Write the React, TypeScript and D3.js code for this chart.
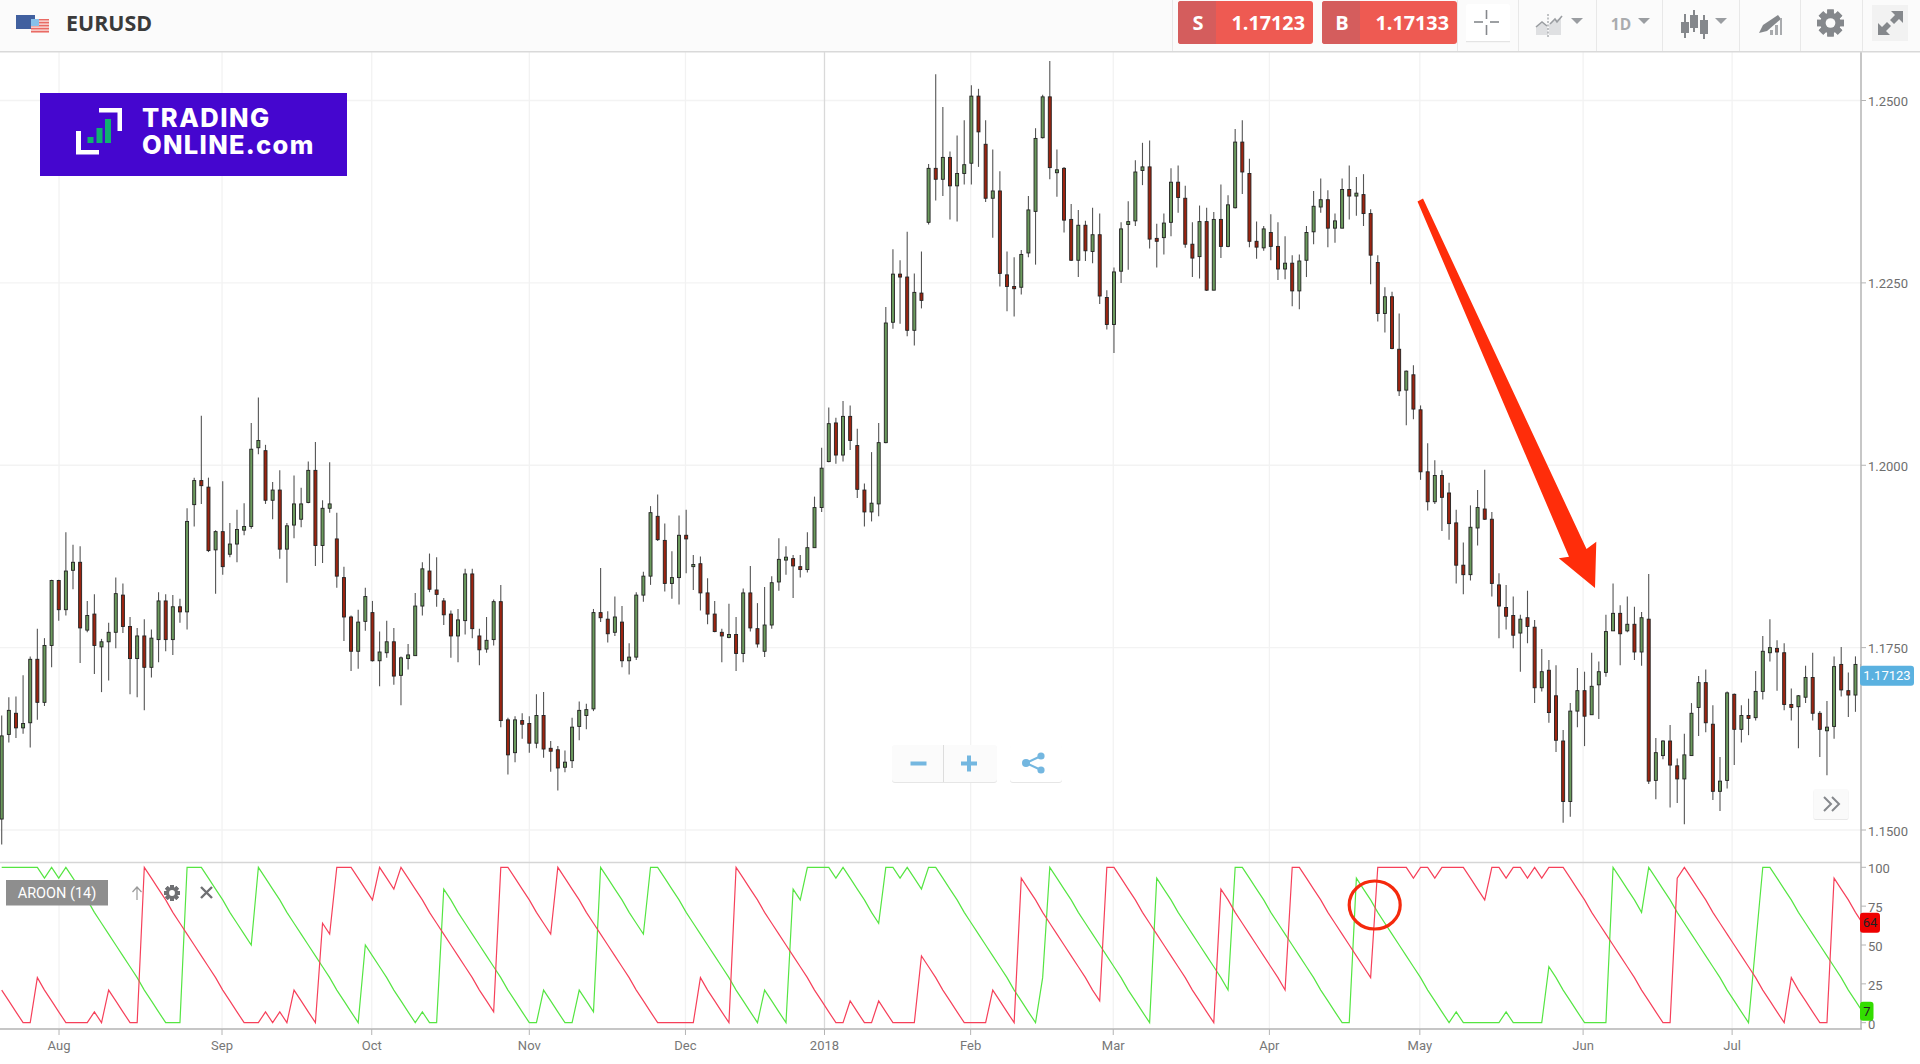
import React from "react";
import * as d3 from "d3";

// Prices in 1/10000 units. Each row: open, high, low, close.
const candlesA = [[11515,11657,11480,11629],[11631,11682,11620,11664],[11660,11683,11626,11640],[11640,11712,11632,11646],[11647,11738,11613,11734],[11734,11776,11651,11675],[11675,11763,11670,11753],[11753,11843,11723,11842],[11842,11843,11787,11802],[11802,11908,11794,11855],[11856,11891,11830,11867],[11867,11889,11729,11777],[11774,11814,11771,11794],[11796,11823,11714,11753],[11751,11762,11689,11758],[11758,11784,11705,11771],[11771,11846,11749,11824],[11822,11838,11770,11779],[11779,11792,11686,11735],[11735,11777,11682,11766],[11766,11789,11664,11723],[11723,11775,11709,11763],[11761,11826,11730,11814],[11814,11823,11745,11761],[11761,11822,11740,11806],[11806,11817,11784,11799],[11799,11941,11775,11923],[11946,11983,11916,11979],[11979,12068,11947,11972],[11970,11983,11881,11883],[11884,11911,11824,11909],[11909,11978,11850,11861],[11878,11921,11874,11892],[11892,11939,11867,11912],[11911,11948,11904,11916],[11916,12058,11913,12022],[12024,12093,12015,12034],[12020,12028,11947,11952],[11952,11977,11926,11966],[11966,11993,11872,11885],[11885,11921,11839,11917],[11918,11986,11900,11947],[11926,11969,11915,11947],[11949,12005,11948,11993],[11993,12032,11862,11890],[11890,11952,11866,11941],[11941,12004,11935,11947],[11899,11935,11832,11848],[11846,11861,11759,11792],[11792,11794,11718,11745],[11745,11802,11721,11785],[11786,11832,11773,11820],[11798,11814,11731,11732],[11732,11772,11697,11744],[11743,11787,11736,11758],[11758,11777,11699,11711],[11712,11738,11671,11736],[11735,11755,11720,11740],[11739,11825,11739,11807],[11807,11867,11794,11858],[11855,11879,11826,11830],[11829,11874,11806,11823],[11814,11818,11781,11795],[11796,11801,11736,11766],[11766,11803,11730,11788],[11787,11858,11768,11851],[11851,11858,11763,11776],[11766,11776,11726,11747]];
const candlesB = [[11748,11792,11743,11760],[11761,11816,11753,11813],[11813,11836,11641,11650],[11651,11654,11576,11603],[11606,11656,11593,11651],[11650,11660,11625,11645],[11646,11656,11606,11619],[11619,11686,11612,11657],[11657,11689,11599,11611],[11612,11622,11580,11608],[11610,11615,11554,11585],[11586,11609,11579,11593],[11595,11654,11585,11641],[11642,11676,11623,11664],[11657,11673,11638,11665],[11666,11803,11663,11798],[11798,11859,11785,11791],[11789,11800,11757,11769],[11771,11820,11766,11792],[11785,11807,11723,11732],[11732,11756,11713,11737],[11737,11826,11733,11822],[11822,11854,11813,11848],[11848,11944,11836,11935],[11930,11960,11896,11898],[11897,11920,11827,11838],[11838,11882,11817,11846],[11846,11931,11809,11904],[11904,11939,11852,11899],[11861,11877,11829,11864],[11865,11875,11801,11825],[11825,11845,11782,11796],[11796,11814,11771,11772],[11771,11776,11730,11766],[11764,11810,11763,11768],[11768,11792,11718,11742],[11742,11831,11730,11825],[11825,11862,11772,11777],[11776,11811,11750,11755],[11745,11833,11737,11781],[11781,11848,11776,11839],[11840,11900,11828,11871],[11870,11889,11850,11874],[11872,11877,11818,11862],[11861,11877,11846,11857],[11857,11908,11853,11887],[11887,11957,11887,11942],[11942,12024,11936,11996],[12005,12079,12004,12057],[12058,12065,12002,12014],[12014,12088,12005,12067],[12067,12082,12021,12034],[12027,12050,11955,11967],[11966,11975,11916,11936],[11936,12018,11923,11948],[11947,12058,11930,12031]];
const candlesC = [[12031,12217,12030,12195],[12196,12296,12187,12262],[12262,12281,12194,12258],[12258,12320,12177,12185],[12185,12263,12164,12237],[12236,12293,12215,12226],[12333,12413,12330,12407],[12407,12536,12363,12392],[12392,12491,12369,12422],[12422,12430,12337,12383],[12383,12452,12334,12400],[12400,12473,12385,12412],[12414,12521,12385,12506],[12506,12516,12409,12457],[12440,12473,12361,12366],[12366,12433,12312,12376],[12376,12403,12245,12263],[12261,12293,12211,12245],[12245,12285,12204,12242],[12244,12295,12234,12289],[12291,12369,12285,12350],[12348,12462,12275,12448],[12449,12508,12448,12505],[12505,12554,12392,12408],[12401,12433,12368,12405],[12407,12409,12319,12336],[12337,12358,12280,12281],[12281,12350,12258,12329],[12329,12335,12280,12294],[12293,12353,12277,12316],[12316,12345,12221,12232],[12230,12240,12186,12193],[12193,12271,12154,12265],[12266,12333,12250,12324],[12330,12362,12268,12334],[12335,12418,12328,12402],[12404,12442,12384,12409],[12409,12445,12297,12310],[12311,12331,12271,12307],[12312,12345,12289,12332],[12333,12407,12314,12388],[12388,12411,12346,12367],[12366,12383,12298,12303],[12303,12333,12258,12284],[12286,12356,12256,12334],[12334,12353,12239,12240],[12240,12347,12240,12337],[12337,12385,12284,12300],[12300,12370,12299,12357],[12353,12461,12352,12443],[12443,12473,12372,12402],[12400,12420,12299,12307],[12307,12334,12283,12299],[12298,12328,12294,12324],[12319,12344,12281,12300],[12300,12333,12254,12269]];
const candlesD = [[12269,12314,12255,12277],[12277,12288,12218,12239],[12239,12289,12214,12280],[12281,12328,12258,12319],[12320,12376,12303,12355],[12354,12393,12346,12364],[12364,12377,12299,12325],[12325,12345,12305,12335],[12325,12393,12325,12378],[12378,12411,12337,12369],[12369,12395,12342,12373],[12371,12399,12328,12345],[12345,12351,12248,12288],[12278,12288,12197,12208],[12208,12244,12182,12231],[12231,12238,12159,12160],[12159,12208,12095,12102],[12103,12130,12055,12129],[12124,12137,12063,12077],[12076,12082,11980,11991],[11991,12030,11938,11950],[11950,12007,11947,11986],[11986,11993,11910,11956],[11962,11976,11898,11920],[11921,11939,11838,11863],[11863,11894,11823,11850],[11850,11945,11842,11915],[11914,11966,11890,11942],[11940,11994,11925,11926],[11926,11936,11820,11838],[11836,11852,11763,11807],[11805,11836,11775,11793],[11794,11820,11749,11767],[11770,11795,11717,11789],[11791,11828,11756,11779],[11778,11788,11674,11695],[11695,11748,11690,11717],[11719,11733,11647,11661],[11684,11726,11607,11623],[11622,11637,11510,11539],[11539,11674,11518,11663],[11663,11722,11641,11691],[11691,11717,11615,11656],[11658,11743,11658,11697],[11699,11731,11652,11717],[11716,11795,11710,11772],[11773,11838,11773,11797],[11797,11808,11726,11769],[11773,11820,11771,11782],[11782,11806,11733,11744],[11744,11799,11725,11791],[11789,11851,11563,11567],[11568,11626,11542,11606],[11602,11623,11597,11622],[11622,11644,11531,11589],[11588,11598,11537,11570],[11570,11632,11508,11603],[11602,11674,11602,11660],[11668,11711,11629,11702],[11702,11720,11634,11647],[11645,11671,11541,11553],[11553,11600,11526,11567],[11568,11690,11557,11688],[11686,11687,11589,11638],[11638,11671,11620,11657],[11657,11680,11630,11653],[11654,11718,11650,11690],[11690,11766,11679,11745],[11743,11789,11731,11750],[11749,11760,11691,11744],[11743,11756,11664,11672],[11672,11694,11650,11668],[11669,11685,11612,11684],[11682,11725,11674,11709],[11709,11743,11650,11660],[11660,11663,11600,11638],[11636,11677,11575,11641],[11642,11738,11625,11724],[11727,11751,11683,11692],[11691,11716,11655,11685],[11685,11738,11662,11727],[11727,11727,11642,11712]];

const aroonUp = [100,100,100,100,100,100,93,100,93,100,93,86,79,71,64,57,50,43,36,29,21,14,7,0,0,0,100,100,100,93,86,79,71,64,57,50,100,93,86,79,71,64,57,50,43,36,29,21,14,7,0,50,43,36,29,21,14,7,0,7,0,0,86,79,71,64,57,50,43,36,29,21,14,7,0,0,21,14,7,0,0,21,14,7,100,93,86,79,71,64,57,100,100,93,86,79,71,64,57,50,43,36,29,21,14,7,0,21,14,7,0,86,79,100,100,100,100,93,100,93,86,79,71,64,100,100,93,100,93,86,100,100,93,86,79,71,64,57,50,43,36,29,21,14,7,0,29,100,93,86,79,71,64,57,50,43,36,29,21,14,7,0,93,86,79,71,64,57,50,43,36,29,21,100,100,93,86,79,71,64,57,50,43,36,29,21,14,7,0,0,93,86,79,71,64,57,50,43,36,29,21,14,7,0,7,0,0,0,0,0,0,7,0,0,0,0,0,36,29,21,14,7,0,0,0,0,100,93,86,79,71,100,93,86,79,71,64,57,50,43,36,29,21,14,7,0,50,100,100,93,86,79,71,64,57,50,43,36,29,21,14,7];
const aroonDown = [21,14,7,0,0,29,21,14,7,0,0,0,0,7,0,21,14,7,0,0,100,93,86,79,71,64,57,50,43,36,29,21,14,7,0,0,0,7,0,7,0,21,14,7,0,64,57,100,100,100,93,86,79,100,93,86,100,93,86,79,71,64,57,50,43,36,29,21,14,7,100,100,93,86,79,71,64,57,100,93,86,79,71,64,57,50,43,36,29,21,14,7,0,0,0,0,0,0,29,21,14,7,0,100,93,86,79,71,64,57,50,43,36,29,21,14,7,0,0,14,7,0,0,14,7,0,0,0,0,43,36,29,21,14,7,0,0,0,0,21,14,7,0,93,86,79,71,64,57,50,43,36,29,21,14,100,100,93,86,79,71,64,57,50,43,36,29,21,14,7,0,86,79,71,64,57,50,43,36,29,21,100,100,93,86,79,71,64,57,50,43,36,29,100,100,100,100,100,93,100,100,93,100,100,100,100,93,86,79,100,100,93,100,100,93,100,93,100,100,100,93,86,79,71,64,57,50,43,36,29,21,14,7,0,0,93,100,93,86,79,71,64,57,50,43,36,29,21,14,7,0,29,21,14,7,0,0,93,86,79,71,64];

const monthLabels = ["Aug","Sep","Oct","Nov","Dec","2018","Feb","Mar","Apr","May","Jun","Jul"];
const monthBars = [8.04,30.9,51.9,74,95.9,115.4,135.9,155.9,177.8,198.9,221.8,242.7];
const priceTicks = [1.15,1.175,1.2,1.225,1.25];
const aroonTicks = [0,25,50,75,100];
const lastBid = 1.17123;
const lastAsk = 1.17133;

const W = 1920, H = 1064;
const FONT = "Roboto, sans-serif";
const OS = "'Open Sans', sans-serif";

const candles = [...candlesA, ...candlesB, ...candlesC, ...candlesD];
const x = d3.scaleLinear().domain([0, 261]).range([1.7, 1862.6]);
const y = d3.scaleLinear().domain([1.15, 1.25]).range([830, 100.5]);
const yA = d3.scaleLinear().domain([0, 100]).range([1022.7, 867.3]);
const AX = 1861, BOTTOM = 1029;

const aLine = d3.line<number>().x((_, i) => x(i)).y(d => yA(d));

const Caret = ({ x: cx, y: cy }: { x: number; y: number }) => (
  <path d={`M${cx - 6} ${cy}h12l-6 6z`} fill="#9a9da1" />
);

const Gear = ({ cx, cy, r, fill, inner }: { cx: number; cy: number; r: number; fill: string; inner: string }) => (
  <g>
    {d3.range(8).map(k => (
      <rect key={k} x={cx - r * 0.24} y={cy - r} width={r * 0.48} height={r * 2} fill={fill} transform={`rotate(${k * 45} ${cx} ${cy})`} />
    ))}
    <circle cx={cx} cy={cy} r={r * 0.76} fill={fill} />
    <circle cx={cx} cy={cy} r={r * 0.36} fill={inner} />
  </g>
);

function Header() {
  const btn = (bx: number, letter: string, price: number) => (
    <g>
      <rect x={bx} y={1} width={135} height={43} rx={3} fill="#ee5a52" />
      <path d={`M${bx + 38} 1H${bx + 3}a3 3 0 0 0 -3 3v37a3 3 0 0 0 3 3H${bx + 38}z`} fill="#d45d5d" />
      <text x={bx + 20} y={29.5} fill="#fff" fontFamily={OS} fontWeight={700} fontSize={20} textAnchor="middle">{letter}</text>
      <text x={bx + 127} y={29.5} fill="#fff" fontFamily={OS} fontWeight={700} fontSize={19.8} textAnchor="end">{price.toFixed(5)}</text>
    </g>
  );
  const seps = [1172, 1457, 1518, 1596, 1662, 1739, 1800, 1862];
  return (
    <g>
      <rect x={0} y={0} width={W} height={51} fill="#fbfbfb" />
      <rect x={0} y={51} width={W} height={1.5} fill="#d9d9d9" />
      {seps.map(s => <rect key={s} x={s} y={0} width={1} height={51} fill="#e8e8e8" />)}
      <rect x={16} y={15} width={19} height={14} fill="#41609f" />
      <rect x={31} y={19} width={18} height={14} fill="#f6c9c6" />
      {[19, 22, 25, 28, 31].map(s => <rect key={s} x={31} y={s} width={18} height={1.3} fill="#e96a64" />)}
      <rect x={31} y={19} width={8} height={7} fill="#86c0ea" />
      <text x={66} y={30.5} fontFamily={OS} fontWeight={700} fontSize={21.4} fill="#3a3a3a">EURUSD</text>
      {btn(1178, "S", lastBid)}
      {btn(1322, "B", lastAsk)}
      <rect x={1466} y={4} width={44} height={38} rx={3} fill="#fff" />
      <rect x={1466} y={41} width={44} height={1.2} fill="#e4e4e4" />
      <g stroke="#85888c" strokeWidth={1.6}>
        <line x1={1474} x2={1483} y1={22} y2={22} />
        <line x1={1490} x2={1499} y1={22} y2={22} />
        <line x1={1486.5} x2={1486.5} y1={10} y2={19} />
        <line x1={1486.5} x2={1486.5} y1={25} y2={35} />
      </g>
      {/* area / line icon */}
      <path d="M1536 35V27l6-4 5 3 1 9z" fill="#dfe0e2" />
      <path d="M1549 35V24l6-4 6-2v17z" fill="#dfe0e2" />
      <path d="M1536 27l6-5 5 4M1550 24l5-5 2 3 5-6" fill="none" stroke="#9a9da1" strokeWidth={1.6} />
      <line x1={1548} x2={1548} y1={14} y2={37} stroke="#9a9da1" strokeWidth={1.2} strokeDasharray="2 1.5" />
      <Caret x={1577} y={18} />
      <text x={1621} y={30} textAnchor="middle" fontFamily={OS} fontWeight={700} fontSize={15.5} fill="#a9abae">1D</text>
      <Caret x={1644} y={18} />
      {/* candle icon */}
      <g fill="#85888c">
        <rect x={1684} y={14} width={2} height={24} /><rect x={1681} y={22} width={8} height={11} />
        <rect x={1693} y={10} width={2} height={22} /><rect x={1690} y={15} width={8} height={13} />
        <rect x={1703} y={15} width={2} height={24} /><rect x={1700} y={20} width={8} height={14} />
      </g>
      <Caret x={1721} y={18} />
      {/* drawing icon */}
      <path d="M1759 33l4-8 15-10 3 4-14 12z" fill="#85888c" />
      <path d="M1770 35v-5h3v5zM1775 35v-10h3v10zM1780 35v-17h2v17z" fill="#a9abae" />
      <Gear cx={1830.5} cy={23} r={13.5} fill="#85888c" inner="#fbfbfb" />
      <rect x={1872} y={5} width={36} height={36} fill="#f2f2f2" />
      <path d="M1891 11h12v12l-4-4-5 5-4-4 5-5zM1878 35V23l4 4 5-5 4 4-5 5 4 4z" fill="#85888c" />
    </g>
  );
}

function Logo() {
  return (
    <g>
      <rect x={40} y={93} width={307} height={83} fill="#4506cf" />
      <g fill="#fff">
        <rect x={99} y={108} width={23} height={4.5} />
        <rect x={117.5} y={108} width={4.5} height={23} />
        <rect x={76} y={131} width={5} height={23} />
        <rect x={76} y={150} width={23} height={4.5} />
      </g>
      <g fill="#10b070">
        <rect x={87.5} y={137} width={6} height={6} />
        <rect x={96.5} y={128} width={6} height={15} />
        <rect x={105} y={119} width={6} height={24} />
      </g>
      <g fill="#fff" fontFamily="Inter, sans-serif" fontWeight={800} fontSize={25.5}>
        <text x={142} y={126.5} letterSpacing={1.5}>TRADING</text>
        <text x={142} y={154} letterSpacing={1.3}>ONLINE.com</text>
      </g>
    </g>
  );
}

function Controls() {
  return (
    <g>
      <rect x={892} y={746} width={105} height={37} rx={3} fill="#e6e6e6" />
      <rect x={892} y={745} width={105} height={37} rx={3} fill="#fbfbfb" />
      <rect x={943} y={745} width={1} height={37} fill="#dddddd" />
      <rect x={1010} y={746} width={52} height={37} rx={3} fill="#e6e6e6" />
      <rect x={1010} y={745} width={52} height={37} rx={3} fill="#ffffff" />
      <g fill="#74b7e0">
        <rect x={910.5} y={761.5} width={16} height={4} />
        <rect x={961} y={761.5} width={16} height={4} />
        <rect x={967} y={755.5} width={4} height={16} />
        <circle cx={1041} cy={756} r={3.6} />
        <circle cx={1026} cy={763} r={4} />
        <circle cx={1041} cy={770} r={3.6} />
      </g>
      <path d="M1041 756L1026 763L1041 770" fill="none" stroke="#74b7e0" strokeWidth={2} />
      <rect x={1813.5} y={790} width={35} height={30} rx={2} fill="#e8e8e8" />
      <rect x={1813.5} y={789} width={35} height={30} rx={2} fill="#fafafa" />
      <path d="M1824 797l7 7-7 7M1832 797l7 7-7 7" fill="none" stroke="#85888c" strokeWidth={2} />
    </g>
  );
}

function AroonLegend() {
  return (
    <g>
      <rect x={6} y={880} width={102} height={25.5} fill="#8e8e8e" />
      <text x={57} y={898} fill="#fff" fontFamily={FONT} fontSize={14.5} textAnchor="middle">AROON (14)</text>
      <path d="M137 900V887M132.5 892l4.5-5 4.5 5" fill="none" stroke="#9a9a9a" strokeWidth={1.2} />
      <Gear cx={172} cy={893} r={8} fill="#6f7073" inner="#fff" />
      <path d="M201 887l11 11M212 887l-11 11" stroke="#6f7073" strokeWidth={2.4} fill="none" />
    </g>
  );
}

export default function App() {
  const last = lastBid;
  return (
    <svg width={W} height={H} viewBox={`0 0 ${W} ${H}`} style={{ position: "fixed", left: 0, top: 0, background: "#fff" }}>
      <defs>
        <clipPath id="plot"><rect x={0} y={52} width={AX} height={BOTTOM - 52} /></clipPath>
      </defs>
      {/* grid */}
      {priceTicks.map(t => (
        <line key={t} x1={0} x2={AX} y1={y(t)} y2={y(t)} stroke="#f3f3f3" strokeWidth={1.4} />
      ))}
      {monthBars.map((b, i) => (
        <line key={b} x1={x(b)} x2={x(b)} y1={52} y2={BOTTOM} stroke={monthLabels[i] === "2018" ? "#d9d9d9" : "#f2f2f2"} strokeWidth={1.3} />
      ))}
      <Logo />
      {/* candles */}
      <g clipPath="url(#plot)">
        {candles.map((c, i) => {
          const [o, h, l, cl] = c.map(v => v / 10000);
          const up = cl >= o;
          const top = y(Math.max(o, cl));
          const bot = y(Math.min(o, cl));
          return (
            <g key={i}>
              <line x1={x(i)} x2={x(i)} y1={y(h)} y2={y(l)} stroke="#555" strokeWidth={1.1} />
              <rect x={x(i) - 1.5} y={top} width={3} height={Math.max(bot - top, 1.5)} fill={up ? "#6b9a5d" : "#9c2410"} stroke="#222" strokeWidth={0.9} />
            </g>
          );
        })}
      </g>
      <Controls />
      {/* aroon panel */}
      <line x1={0} x2={AX} y1={862.4} y2={862.4} stroke="#d6d6d6" strokeWidth={1.5} />
      <g clipPath="url(#plot)" fill="none" strokeWidth={1.2}>
        <path d={aLine(aroonUp) ?? ""} stroke="#55e542" />
        <path d={aLine(aroonDown) ?? ""} stroke="#f6405a" />
      </g>
      <AroonLegend />
      {/* arrow + circle */}
      <path d="M1417.5 201.5L1423 198.5L1586.5 549L1596.3 541.7L1595 588L1558.8 558.3L1569 556.7Z" fill="#ff2d0a" />
      <ellipse cx={1374.7} cy={905} rx={25.5} ry={24} fill="none" stroke="#f5290c" strokeWidth={3.2} />
      {/* axes */}
      <line x1={0} x2={AX + 1} y1={BOTTOM} y2={BOTTOM} stroke="#c6c6c6" strokeWidth={2} />
      <line x1={AX} x2={AX} y1={52} y2={BOTTOM} stroke="#b4b4b4" strokeWidth={1.5} />
      {priceTicks.map(t => (
        <g key={t}>
          <line x1={AX} x2={AX + 5} y1={y(t)} y2={y(t)} stroke="#b4b4b4" />
          <text x={1868} y={y(t) + 5.5} fontFamily={FONT} fontSize={13} fill="#6e6e6e">{t.toFixed(4)}</text>
        </g>
      ))}
      {aroonTicks.map(t => (
        <g key={t}>
          <line x1={AX} x2={AX + 5} y1={yA(t)} y2={yA(t)} stroke="#b4b4b4" />
          <text x={1868} y={yA(t) + 6} fontFamily={FONT} fontSize={13} fill="#6e6e6e">{t}</text>
        </g>
      ))}
      {monthBars.map((b, i) => (
        <g key={b}>
          <line x1={x(b)} x2={x(b)} y1={BOTTOM} y2={BOTTOM + 6} stroke="#b4b4b4" />
          <text x={x(b)} y={1050} textAnchor="middle" fontFamily={FONT} fontSize={13} fill="#777">{monthLabels[i]}</text>
        </g>
      ))}
      {/* value tags */}
      <rect x={1860} y={y(last) - 9.5} width={54} height={20} rx={3} fill="#5ab1e0" />
      <text x={1887} y={y(last) + 5} textAnchor="middle" fontFamily={FONT} fontSize={13} fill="#fff">{last.toFixed(5)}</text>
      <rect x={1860} y={yA(aroonDown[261]) - 10.5} width={20} height={20} rx={3} fill="#ee0000" />
      <text x={1870} y={yA(aroonDown[261]) + 4} textAnchor="middle" fontFamily={FONT} fontSize={13} fill="#222">{aroonDown[261]}</text>
      <rect x={1860} y={yA(aroonUp[261]) - 10} width={13.5} height={19} rx={3} fill="#33dd00" />
      <text x={1866.8} y={yA(aroonUp[261]) + 4} textAnchor="middle" fontFamily={FONT} fontSize={13} fill="#222">{aroonUp[261]}</text>
      <Header />
    </svg>
  );
}
